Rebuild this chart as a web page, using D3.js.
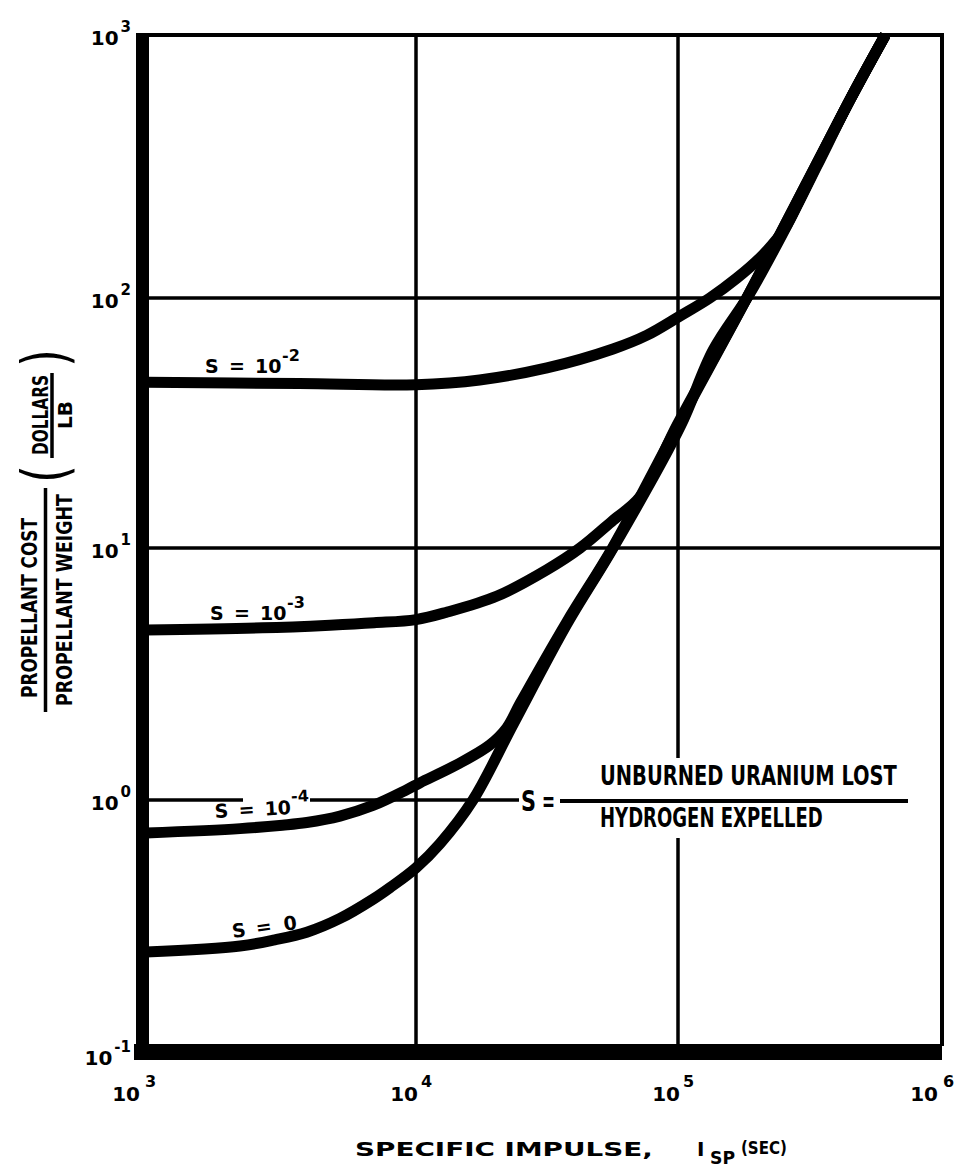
<!DOCTYPE html>
<html><head><meta charset="utf-8">
<script src="https://cdn.jsdelivr.net/npm/d3@7"></script>
<style>
html,body{margin:0;padding:0;background:#fff;}
svg{display:block;}
text{font-family:"DejaVu Sans","Liberation Sans",sans-serif;font-weight:bold;fill:#000;}
</style></head><body>
<svg id="chart" width="963" height="1168"></svg>
<script>
// ---- data ----
const xTicks = [1e3, 1e4, 1e5, 1e6];
const xTickExp = ["3", "4", "5", "6"];
const yTicks = [1000, 100, 10, 1, 0.1];
const yTickExp = ["3", "2", "1", "0", "-1"];

const seriesLabels = ["-2", "-3", "-4", "0"];

const ispS2  = [1000, 3700, 10000, 17500, 31600, 56500, 76200, 101800, 132000, 167000, 210000, 254000, 290000, 336000, 448000, 610000];
const costS2 = [46, 45.5, 45, 47, 52.5, 62.5, 71, 84.7, 100, 119, 146, 184, 238, 322, 568, 1000];

const ispS3  = [1000, 2700, 4800, 7000, 10000, 13000, 20400, 31600, 42300, 56500, 71600, 100000, 187000, 448000, 610000];
const costS3 = [4.73, 4.82, 4.94, 5.05, 5.2, 5.55, 6.45, 8.2, 10, 12.9, 16, 31.5, 105, 567, 1000];

const ispS4  = [1000, 2230, 3200, 3940, 5230, 6930, 9260, 10360, 14300, 19100, 22200, 25000, 37700, 56500, 100000, 187000, 448000, 610000];
const costS4 = [0.734, 0.765, 0.79, 0.81, 0.86, 0.95, 1.1, 1.17, 1.38, 1.65, 1.93, 2.42, 5.1, 10.1, 31, 105, 567, 1000];

const ispS0  = [1000, 2230, 3000, 3940, 5230, 6930, 8000, 10000, 12350, 16500, 23500, 37700, 56500, 101800, 136000, 187000, 265000, 336000, 448000, 610000];
const costS0 = [0.241, 0.255, 0.27, 0.29, 0.33, 0.395, 0.44, 0.53, 0.665, 1.0, 2.0, 5.0, 10, 30.5, 62, 104, 198, 318, 566, 1000];

// label anchors in data space (isp, cost)
const labelIsp  = [1654, 1726, 1801, 2099];
const labelCost = [50.1, 5.18, 0.845, 0.275];

// ---- scales ----
const x = d3.scaleLog().domain([1e3, 1e4, 1e5, 1e6]).range([146, 416, 678, 942]);
const y = d3.scaleLog().domain([0.1, 1, 10, 100, 1000]).range([1046, 800, 548, 298, 35]);

const svg = d3.select("#chart");
svg.append("rect").attr("width", 963).attr("height", 1168).attr("fill", "#fff");

const X0 = x(1e3), X1 = x(1e6), Y0 = y(0.1), Y1 = y(1000);

// fit a text horizontally to a given width (measured in the browser)
function fitX(sel, w) {
  const n = sel.node().getComputedTextLength();
  const x0 = +sel.attr("x");
  sel.attr("transform", `translate(${x0},0) scale(${w / n},1) translate(${-x0},0)`);
  return sel;
}

// gridlines
svg.append("g").selectAll("line").data(xTicks.slice(1, 3)).join("line")
  .attr("x1", d => x(d)).attr("x2", d => x(d))
  .attr("y1", Y1).attr("y2", Y0)
  .attr("stroke", "#000").attr("stroke-width", 3.5);
svg.append("g").selectAll("line").data(yTicks.slice(1, 4)).join("line")
  .attr("x1", X0).attr("x2", X1)
  .attr("y1", d => y(d)).attr("y2", d => y(d))
  .attr("stroke", "#000").attr("stroke-width", 3.5);

// borders
svg.append("line").attr("x1", X0 - 10).attr("x2", X1 + 2).attr("y1", Y1).attr("y2", Y1)
  .attr("stroke", "#000").attr("stroke-width", 4);
svg.append("line").attr("x1", X1).attr("x2", X1).attr("y1", Y1 - 2).attr("y2", Y0)
  .attr("stroke", "#000").attr("stroke-width", 4);
svg.append("rect").attr("x", X0 - 10).attr("y", Y1 - 2).attr("width", 13).attr("height", Y0 - Y1 + 16).attr("fill", "#000");
svg.append("rect").attr("x", X0 - 12).attr("y", Y0 - 2).attr("width", X1 - X0 + 12).attr("height", 16).attr("fill", "#000");

// white masks behind annotations (gaps in the grid)
svg.append("rect").attr("x", 243).attr("y", y(1) - 4).attr("width", 67).attr("height", 8).attr("fill", "#fff");
svg.append("rect").attr("x", 519).attr("y", 758).attr("width", X1 - 521).attr("height", 80).attr("fill", "#fff");

// curves
const line = d3.line().x(d => x(d[0])).y(d => y(d[1])).curve(d3.curveCatmullRom.alpha(0.5));
const series = [
  d3.zip(ispS2, costS2),
  d3.zip(ispS3, costS3),
  d3.zip(ispS4, costS4),
  d3.zip(ispS0, costS0)
];
svg.append("g").selectAll("path").data(series).join("path")
  .attr("d", line)
  .attr("fill", "none").attr("stroke", "#000").attr("stroke-width", 11)
  .attr("stroke-linejoin", "round");

// curve labels
const rot = [0, 0, -3, -8];
const lab = svg.append("g").selectAll("text").data(seriesLabels).join("text")
  .attr("transform", (d, i) => `translate(${x(labelIsp[i])},${y(labelCost[i])}) rotate(${rot[i]})`)
  .attr("font-size", 19);
lab.append("tspan").attr("x", 0).text("S");
lab.append("tspan").attr("x", 24).text("=");
lab.append("tspan").attr("x", d => d === "0" ? 52 : 50).text(d => d === "0" ? "0" : "10");
lab.filter(d => d !== "0").append("tspan").attr("x", 77).attr("dy", -12).attr("font-size", 16).text(d => d);

// y tick labels
const yl = svg.append("g").selectAll("text").data(yTicks).join("text")
  .attr("x", 131)
  .attr("y", d => y(d) + (d === 0.1 ? 19 : 10))
  .attr("text-anchor", "end").attr("font-size", 20);
yl.append("tspan").text("10");
yl.append("tspan").attr("dy", -13).attr("dx", 2).attr("font-size", 15).text((d, i) => yTickExp[i]);

// x tick labels
const xl = svg.append("g").selectAll("g").data(xTicks).join("g")
  .attr("transform", d => `translate(${x(d)},0)`);
xl.append("text").attr("x", (d, i) => i === 0 ? -6 : (i === 3 ? -4 : 2)).attr("y", 1101)
  .attr("text-anchor", "end").attr("font-size", 20).text("10");
xl.append("text").attr("x", (d, i) => i === 0 ? -1 : (i === 3 ? 1 : 5)).attr("y", 1087)
  .attr("font-size", 16).text((d, i) => xTickExp[i]);

// x axis title
fitX(svg.append("text").attr("x", 355).attr("y", 1156).attr("font-size", 20).text("SPECIFIC IMPULSE,"), 298);
svg.append("text").attr("x", 697).attr("y", 1156).attr("font-size", 20).text("I");
fitX(svg.append("text").attr("x", 710).attr("y", 1164).attr("font-size", 18).text("SP"), 25);
fitX(svg.append("text").attr("x", 741).attr("y", 1154).attr("font-size", 18).text("(SEC)"), 46);

// y axis title (rotated)
function vtext(txt, bx, cy, size, len) {
  const t = svg.append("text").attr("text-anchor", "middle").attr("font-size", size).text(txt);
  const n = t.node().getComputedTextLength();
  t.attr("transform", `translate(${bx},${cy}) rotate(-90) scale(${len / n},1)`);
}
vtext("PROPELLANT COST", 37, 608, 22, 180);
svg.append("line").attr("x1", 45.5).attr("x2", 45.5).attr("y1", 488).attr("y2", 712)
  .attr("stroke", "#000").attr("stroke-width", 3.5);
vtext("PROPELLANT WEIGHT", 72, 600, 22, 212);
vtext("DOLLARS", 48, 415, 21, 80);
svg.append("line").attr("x1", 52).attr("x2", 52).attr("y1", 373).attr("y2", 458)
  .attr("stroke", "#000").attr("stroke-width", 3.5);
vtext("LB", 72, 415, 19, 28);
svg.append("text").attr("transform", "translate(66,474) rotate(-90) scale(1,1.35)")
  .attr("text-anchor", "middle").attr("font-size", 46).style("font-weight", "normal").text("(");
svg.append("text").attr("transform", "translate(66,358) rotate(-90) scale(1,1.35)")
  .attr("text-anchor", "middle").attr("font-size", 46).style("font-weight", "normal").text(")");

// S definition
fitX(svg.append("text").attr("x", 521).attr("y", 811).attr("font-size", 28).text("S"), 15);
fitX(svg.append("text").attr("x", 542).attr("y", 811).attr("font-size", 28).text("="), 13);
svg.append("line").attr("x1", 560).attr("x2", 908).attr("y1", 801).attr("y2", 801)
  .attr("stroke", "#000").attr("stroke-width", 4);
fitX(svg.append("text").attr("x", 600).attr("y", 785).attr("font-size", 26).text("UNBURNED URANIUM LOST"), 297);
fitX(svg.append("text").attr("x", 600).attr("y", 827).attr("font-size", 26).text("HYDROGEN EXPELLED"), 223);
</script>
</body></html>
